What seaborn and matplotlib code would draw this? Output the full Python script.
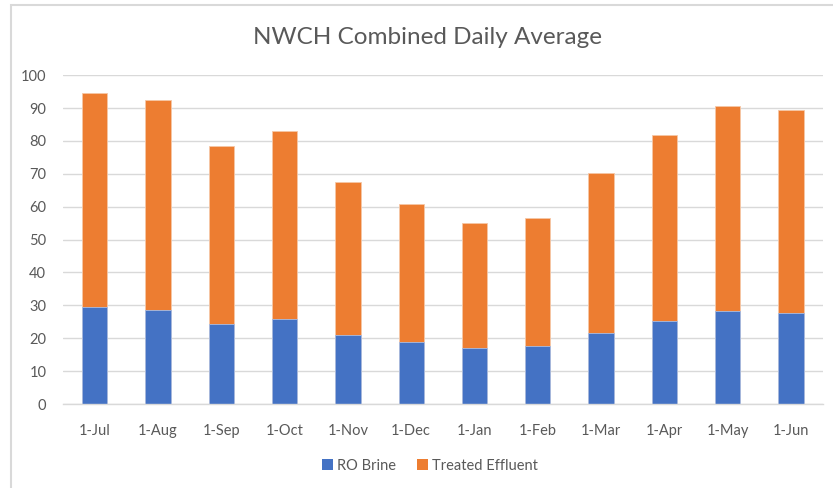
import matplotlib
matplotlib.use("Agg")
import matplotlib.pyplot as plt
import seaborn as sns
import pandas as pd
import numpy as np
from matplotlib.patches import Patch, Rectangle

months = ["1-Jul", "1-Aug", "1-Sep", "1-Oct", "1-Nov", "1-Dec",
          "1-Jan", "1-Feb", "1-Mar", "1-Apr", "1-May", "1-Jun"]
ro_brine = [29.4, 28.6, 24.4, 25.8, 20.9, 18.9, 16.9, 17.6, 21.7, 25.4, 28.2, 27.8]
treated_effluent = [65.2, 63.7, 54.2, 57.2, 46.5, 41.8, 38.0, 39.0, 48.4, 56.3, 62.5, 61.7]
yticks = [0, 10, 20, 30, 40, 50, 60, 70, 80, 90, 100]

sns.set_theme(style="white")
plt.rcParams['font.family'] = ['Lato', 'DejaVu Sans']

blue = "#4472C4"
orange = "#ED7D31"
txt = "#595959"
grid = "#D9D9D9"

df = pd.DataFrame({"month": months, "ro": ro_brine, "te": treated_effluent})
df["total"] = df["ro"] + df["te"]

fig = plt.figure(figsize=(8.33, 4.88), dpi=100)
fig.patch.set_facecolor("white")
fig.patches.append(Rectangle((10.5 / 833, -0.1), 1.2, 0.1 + 1 - 5.5 / 488,
                             transform=fig.transFigure, fill=False,
                             edgecolor="#D9D9D9", linewidth=1.5))
ax = fig.add_axes([0.0756, 0.172, 0.912, 0.674])

sns.barplot(data=df, x="month", y="total", order=months, color=orange, width=0.4,
            saturation=1, linewidth=0.6, edgecolor="#F6C7A6", ax=ax, zorder=3)
sns.barplot(data=df, x="month", y="ro", order=months, color=blue, width=0.4,
            saturation=1, linewidth=0.6, edgecolor="#A9BDE3", ax=ax, zorder=4)

ax.set_ylim(0, 100)
ax.set_xlim(-0.5, len(months) - 0.5)
ax.set_yticks(yticks)
ax.set_yticklabels([str(v) for v in yticks], fontsize=10.5, color=txt)
ax.tick_params(axis="y", length=0, pad=12)
ax.tick_params(axis="x", length=0, pad=14, labelsize=10.5, labelcolor=txt)
ax.yaxis.grid(True, color=grid, linewidth=1.0, zorder=0)
ax.set_axisbelow(True)
for s in ["top", "right", "left"]:
    ax.spines[s].set_visible(False)
ax.spines["bottom"].set_color(grid)
ax.spines["bottom"].set_linewidth(1.0)
ax.spines["bottom"].set_zorder(5)
ax.set_xticks(np.arange(-0.5, len(months), 1.0), minor=True)
ax.tick_params(axis="x", which="minor", length=5, color=grid, width=1.0, direction="out")
ax.set_xlabel("")
ax.set_ylabel("")

fig.text(0.513, 0.923, "NWCH Combined Daily Average", ha="center", va="center",
         fontsize=17.5, color=txt)

handles = [Patch(facecolor=blue, edgecolor="none", label="RO Brine"),
           Patch(facecolor=orange, edgecolor="none", label="Treated Effluent")]
fig.legend(handles=handles, loc="center", bbox_to_anchor=(0.516, 0.046), ncol=2,
           frameon=False, fontsize=10.5, handlelength=0.75, handleheight=0.75,
           handletextpad=0.3, columnspacing=1.4, labelcolor=txt)

fig.savefig("out.png", dpi=100)
